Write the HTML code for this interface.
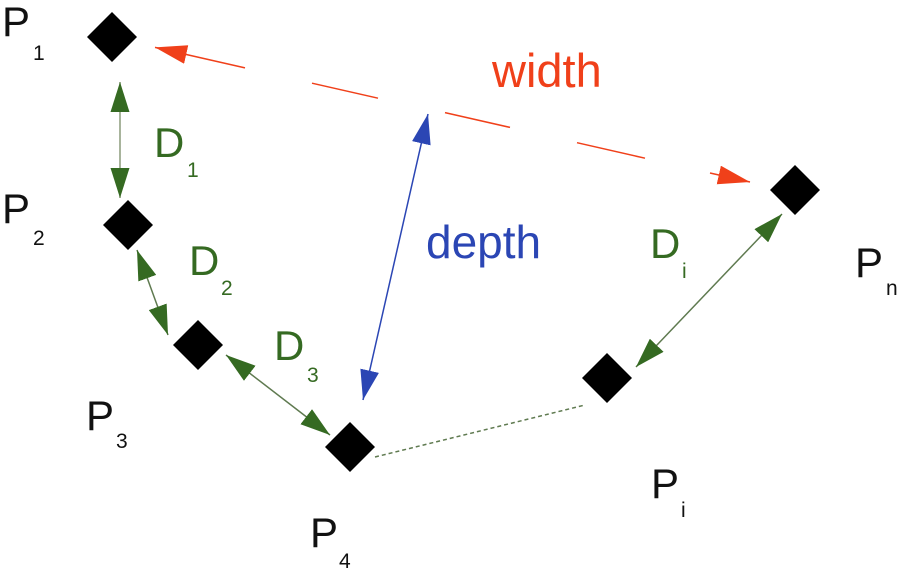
<!DOCTYPE html>
<html><head><style>body{margin:0;background:#fff}svg{display:block}text{font-family:"Liberation Sans",sans-serif}</style></head>
<body>
<svg width="904" height="574" viewBox="0 0 904 574" xmlns="http://www.w3.org/2000/svg">
<defs>
<marker id="gb" viewBox="0 0 10 10" refX="10" refY="5" markerWidth="30" markerHeight="19" markerUnits="userSpaceOnUse" orient="auto-start-reverse" preserveAspectRatio="none"><path d="M0,0 L10,5 L0,10z" fill="#356a22"/></marker>
<marker id="b" viewBox="0 0 10 10" refX="10" refY="5" markerWidth="30" markerHeight="19" markerUnits="userSpaceOnUse" orient="auto-start-reverse" preserveAspectRatio="none"><path d="M0,0 L10,5 L0,10z" fill="#2b46b4"/></marker>
<marker id="r" viewBox="0 0 10 10" refX="10" refY="5" markerWidth="32" markerHeight="19" markerUnits="userSpaceOnUse" orient="auto" preserveAspectRatio="none"><path d="M0,0 L10,5 L0,10z" fill="#f0401a"/></marker>
</defs>
<g fill="#000">
<path d="M112,12 L137,37 L112,62 L87,37z"/>
<path d="M128,200 L153,225 L128,250 L103,225z"/>
<path d="M198,320 L223,345 L198,370 L173,345z"/>
<path d="M350,422 L375,447 L350,472 L325,447z"/>
<path d="M607,353 L632,378 L607,403 L582,378z"/>
<path d="M795,165 L820,190 L795,215 L770,190z"/>
</g>
<g stroke-width="1.5" fill="none">
<line x1="120" y1="82" x2="120" y2="198" stroke="#8a9a7a" marker-start="url(#gb)" marker-end="url(#gb)"/>
<line x1="137" y1="250" x2="168" y2="335" stroke="#5f7a50" marker-start="url(#gb)" marker-end="url(#gb)"/>
<line x1="226" y1="355" x2="330" y2="435" stroke="#5f7a50" marker-start="url(#gb)" marker-end="url(#gb)"/>
<line x1="782" y1="214" x2="636" y2="367" stroke="#5f7a50" marker-start="url(#gb)" marker-end="url(#gb)"/>
<line x1="428" y1="114" x2="363" y2="400" stroke="#2b46b4" marker-start="url(#b)" marker-end="url(#b)"/>
<line x1="245" y1="67.9" x2="155" y2="47.4" stroke="#f0401a" marker-end="url(#r)"/>
<line x1="312" y1="83.2" x2="378" y2="98.2" stroke="#f0401a"/>
<line x1="445" y1="112.6" x2="510" y2="127.4" stroke="#f0401a"/>
<line x1="577" y1="142.7" x2="645" y2="158.2" stroke="#f0401a"/>
<line x1="710" y1="173" x2="750" y2="182" stroke="#f0401a" marker-end="url(#r)"/>
<line x1="375" y1="457" x2="585" y2="405" stroke="#5f7a50" stroke-dasharray="4 3"/>
</g>
<g fill="#111" font-size="42">
<text x="2" y="36">P</text><text x="33" y="60" font-size="21">1</text>
<text x="2" y="223">P</text><text x="33" y="245" font-size="21">2</text>
<text x="86" y="430">P</text><text x="116" y="448" font-size="21">3</text>
<text x="310" y="547">P</text><text x="339" y="568" font-size="21">4</text>
<text x="651" y="498">P</text><text x="681" y="517" font-size="21">i</text>
<text x="855" y="277">P</text><text x="886" y="295" font-size="21">n</text>
</g>
<g fill="#356a22" font-size="42">
<text x="154" y="157">D</text><text x="187" y="177" font-size="21">1</text>
<text x="189" y="275">D</text><text x="221" y="295" font-size="21">2</text>
<text x="274" y="360">D</text><text x="307" y="382" font-size="21">3</text>
<text x="650" y="258">D</text><text x="682" y="278" font-size="21">i</text>
</g>
<text x="492" y="87" fill="#f0401a" font-size="47">width</text>
<text x="426" y="258" fill="#2b46b4" font-size="46">depth</text>
</svg>
</body></html>
